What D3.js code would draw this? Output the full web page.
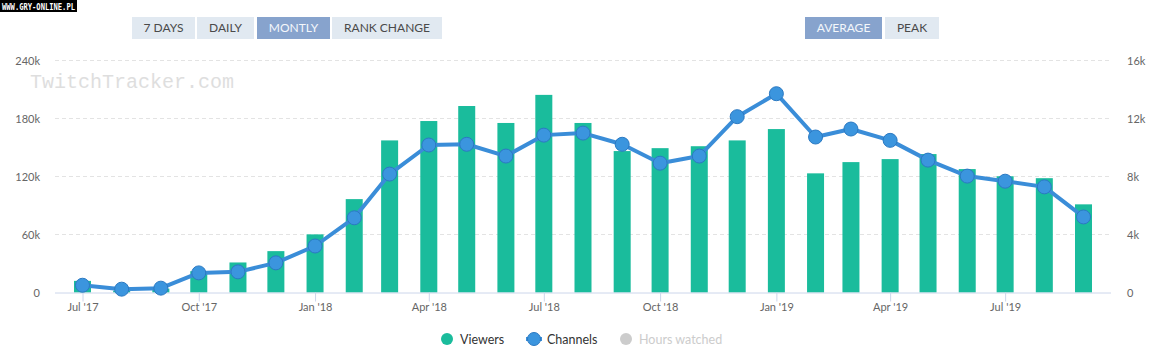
<!DOCTYPE html>
<html>
<head>
<meta charset="utf-8">
<script src="https://cdn.jsdelivr.net/npm/d3@7/dist/d3.min.js"></script>
<style>
  html, body { margin: 0; padding: 0; background: #fff; }
  svg { display: block; font-family: Lato, "Open Sans", sans-serif; }
</style>
</head>
<body>
<svg id="chart" width="1162" height="355"></svg>
<script>
// ---------- data ----------
const months = ["2017-07","2017-08","2017-09","2017-10","2017-11","2017-12",
  "2018-01","2018-02","2018-03","2018-04","2018-05","2018-06","2018-07","2018-08",
  "2018-09","2018-10","2018-11","2018-12","2019-01","2019-02","2019-03","2019-04",
  "2019-05","2019-06","2019-07","2019-08","2019-09"];
const viewers = [12000, 2000, 4000, 22000, 31000, 42700, 60000, 96400, 157000, 177000,
  192500, 175000, 204000, 175000, 146000, 149000, 151000, 157000, 168700, 123000,
  134600, 137700, 142900, 127400, 120000, 118000, 91000];
const channels = [500, 230, 300, 1350, 1420, 2040, 3200, 5140, 8150, 10150,
  10200, 9390, 10830, 10970, 10200, 8900, 9390, 12100, 13680, 10700,
  11250, 10470, 9110, 8010, 7660, 7270, 5200];
const leftTicks = [0, 60000, 120000, 180000, 240000];
const rightTicks = [0, 4000, 8000, 12000, 16000];
const periodButtons = ["7 DAYS", "DAILY", "MONTLY", "RANK CHANGE"];
const modeButtons = ["AVERAGE", "PEAK"];
const legendItems = ["Viewers", "Channels", "Hours watched"];

// ---------- setup ----------
const svg = d3.select("#chart");
const parse = d3.timeParse("%Y-%m");
const dates = months.map(parse);

const plotL = 55, plotR = 1111, plotT = 60, plotB = 292.5;
const x = d3.scaleTime()
  .domain([parse("2017-07"), parse("2019-09")])
  .range([82.5, 1083.5]);
const yL = d3.scaleLinear().domain([0, 240000]).range([plotB, plotT]);
const yR = d3.scaleLinear().domain([0, 16000]).range([plotB, plotT]);

// top-left watermark badge
svg.append("rect").attr("x", 0).attr("y", 0).attr("width", 77).attr("height", 12).attr("fill", "#000");
svg.append("text").attr("x", 2).attr("y", 9.5)
  .attr("font-family", "DejaVu Sans Mono, monospace").attr("font-weight", "bold")
  .attr("font-size", 8).attr("fill", "#fff")
  .attr("textLength", 73).attr("lengthAdjust", "spacingAndGlyphs")
  .text("WWW.GRY-ONLINE.PL");

// buttons
function drawButtons(labels, xs, active) {
  labels.forEach((lab, i) => {
    const [x0, x1] = xs[i];
    const on = lab === active;
    svg.append("rect").attr("x", x0).attr("y", 17).attr("width", x1 - x0).attr("height", 22)
      .attr("fill", on ? "#87a3cd" : "#e1e9f1");
    svg.append("text").attr("x", (x0 + x1) / 2).attr("y", 32)
      .attr("text-anchor", "middle").attr("font-size", 12)
      .attr("fill", on ? "#f4f7fb" : "#4a4a4a").text(lab);
  });
}
drawButtons(periodButtons, [[132,195],[197,254],[257,330],[332,442]], "MONTLY");
drawButtons(modeButtons, [[805,882],[885,939]], "AVERAGE");

// watermark
svg.append("text").attr("x", 30).attr("y", 88)
  .attr("font-family", "Liberation Mono, monospace").attr("font-size", 20)
  .attr("fill", "#dedede").text("TwitchTracker.com");

// grid lines
svg.append("g").selectAll("line").data(leftTicks.filter(d => d > 0)).join("line")
  .attr("x1", plotL).attr("x2", plotR)
  .attr("y1", d => Math.round(yL(d)) + 0.5).attr("y2", d => Math.round(yL(d)) + 0.5)
  .attr("stroke", "#e3e3e3").attr("stroke-dasharray", "4,3");

// left axis
const axL = svg.append("g").attr("transform", `translate(42,0)`)
  .call(d3.axisLeft(yL).tickValues(leftTicks).tickSize(0).tickPadding(2)
    .tickFormat(d => d === 0 ? "0" : (d / 1000) + "k"));
axL.select(".domain").remove();
axL.selectAll("text").attr("font-family", "Lato, sans-serif").attr("font-size", 11).attr("fill", "#666").attr("dy", "0.4em");

// right axis
const axR = svg.append("g").attr("transform", `translate(1125,0)`)
  .call(d3.axisRight(yR).tickValues(rightTicks).tickSize(0).tickPadding(2)
    .tickFormat(d => d === 0 ? "0" : (d / 1000) + "k"));
axR.select(".domain").remove();
axR.selectAll("text").attr("font-family", "Lato, sans-serif").attr("font-size", 11).attr("fill", "#666").attr("dy", "0.4em");

// bars
const barW = 17;
svg.append("g").selectAll("rect").data(viewers).join("rect")
  .attr("x", (d, i) => x(dates[i]) - barW / 2)
  .attr("width", barW)
  .attr("y", d => yL(d))
  .attr("height", d => plotB - yL(d))
  .attr("fill", "#1abc9c");

// x axis
svg.append("line").attr("x1", plotL).attr("x2", plotR)
  .attr("y1", plotB + 0.5).attr("y2", plotB + 0.5).attr("stroke", "#ccd6eb");
const axX = svg.append("g").attr("transform", `translate(0,${plotB})`)
  .call(d3.axisBottom(x)
    .tickValues(dates.filter(d => d.getMonth() % 3 === 0))
    .tickSizeInner(9).tickSizeOuter(0).tickPadding(2)
    .tickFormat(d3.timeFormat("%b '%y")));
axX.select(".domain").remove();
axX.selectAll("line").attr("stroke", "#ccd6eb");
axX.selectAll("text").attr("font-family", "Lato, sans-serif").attr("font-size", 11).attr("fill", "#666");

// channels line
const line = d3.line().x((d, i) => x(dates[i])).y(d => yR(d));
svg.append("path").datum(channels).attr("d", line)
  .attr("fill", "none").attr("stroke", "#3a8dd8").attr("stroke-width", 4)
  .attr("stroke-linejoin", "round");
svg.append("g").selectAll("circle").data(channels).join("circle")
  .attr("cx", (d, i) => x(dates[i])).attr("cy", d => yR(d)).attr("r", 7)
  .attr("fill", "#3b95de").attr("stroke", "#2b79c2").attr("stroke-width", 1);

// legend
const lg = svg.append("g").attr("font-size", 12.5).attr("font-family", "Lato, sans-serif");
lg.append("circle").attr("cx", 447).attr("cy", 339).attr("r", 6).attr("fill", "#1abc9c");
lg.append("text").attr("x", 460).attr("y", 343.5).attr("fill", "#333").text(legendItems[0]);
lg.append("line").attr("x1", 526).attr("x2", 542).attr("y1", 339).attr("y2", 339)
  .attr("stroke", "#3a8dd8").attr("stroke-width", 4);
lg.append("circle").attr("cx", 534).attr("cy", 339).attr("r", 6.5)
  .attr("fill", "#3b95de").attr("stroke", "#2b79c2");
lg.append("text").attr("x", 547).attr("y", 343.5).attr("fill", "#333").text(legendItems[1]);
lg.append("circle").attr("cx", 626).attr("cy", 339).attr("r", 6).attr("fill", "#cccccc");
lg.append("text").attr("x", 639).attr("y", 343.5).attr("fill", "#cccccc").text(legendItems[2]);
</script>
</body>
</html>
